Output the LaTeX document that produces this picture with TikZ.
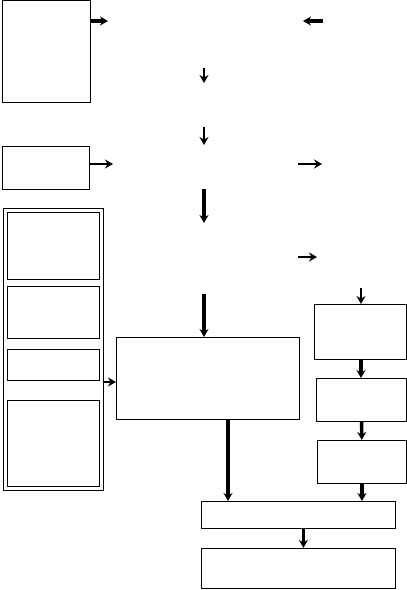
\documentclass[tikz,border=0pt]{standalone}
\usepackage{tikz}
\usetikzlibrary{positioning,arrows.meta,fit,calc}
\tikzset{
  boite/.style={
    rectangle, draw=black, line width=0.9pt, inner sep=0pt},
  fleche/.style={-{Stealth[length=8pt,width=9pt]}, line width=2.6pt},
  flecheFine/.style={fleche, line width=2pt},
  flecheEpaisse/.style={fleche, line width=3.4pt}
}
\begin{document}
\begin{tikzpicture}[x=1pt,y=1pt]
  \useasboundingbox (0,0) rectangle (407,-590);

  % --- Haut : boites de gauche
  \node[boite, anchor=north west, minimum width=88pt, minimum height=102pt] (A) at (2,0) {};
  \node[boite, anchor=north west, minimum width=87pt, minimum height=43pt] (B) at (2,-146) {};

  % --- Extremites libres des fleches du haut
  \coordinate (fA) at (108,-21);
  \coordinate (gD) at (323,-21);
  \coordinate (gA) at (303,-21);
  \coordinate (c1) at (204,-68);
  \coordinate (c2) at (204,-83);
  \coordinate (c3) at (204,-127);
  \coordinate (c4) at (204,-145);
  \coordinate (fB) at (113,-164);
  \coordinate (dB1) at (298,-164);
  \coordinate (dB2) at (322,-164);
  \coordinate (c5) at (204,-189);
  \coordinate (c6) at (204,-223);
  \coordinate (dC1) at (298,-257);
  \coordinate (dC2) at (317,-257);
  \coordinate (c7) at (204,-294);
  \coordinate (r0) at (361,-288);

  \draw[flecheEpaisse] (A.east |- fA) -- (fA);
  \draw[flecheEpaisse] (gD) -- (gA);
  \draw[flecheFine] (c1) -- (c2);
  \draw[fleche] (c3) -- (c4);
  \draw[fleche] (B.east |- fB) -- (fB);
  \draw[fleche] (dB1) -- (dB2);
  \draw[flecheEpaisse] (c5) -- (c6);
  \draw[fleche] (dC1) -- (dC2);

  % --- Groupe de gauche
  \node[boite, anchor=north west, minimum width=92pt, minimum height=67pt] (g1) at (7,-212) {};
  \node[boite, below=6pt of g1, minimum width=92pt, minimum height=52pt] (g2) {};
  \node[boite, below=10pt of g2, minimum width=92pt, minimum height=31pt] (g3) {};
  \node[boite, below=19pt of g3, minimum width=92pt, minimum height=86pt] (g4) {};
  \node[boite, fit=(g1)(g4), inner sep=4pt] (grp) {};

  % --- Boite centrale et colonne de droite
  \node[boite, anchor=north west, minimum width=183pt, minimum height=82pt] (C) at (116,-337) {};
  \node[boite, anchor=north west, minimum width=92pt, minimum height=55pt] (R1) at (314,-304) {};
  \node[boite, anchor=north west, minimum width=90pt, minimum height=43pt] (R2) at (316,-378) {};
  \node[boite, anchor=north west, minimum width=89pt, minimum height=43pt] (R3) at (317,-440) {};

  \coordinate (eG) at (0,-382);
  \coordinate (sC) at (228,0);
  \draw[flecheEpaisse] (c7) -- (C.north -| c7);
  \draw[fleche] (r0) -- (R1.north -| r0);
  \draw[fleche] (grp.east |- eG) -- (C.west |- eG);
  \draw[flecheEpaisse] (R1.south -| r0) -- (R2.north -| r0);
  \draw[flecheEpaisse] (R2) -- (R3);

  % --- Bas
  \node[boite, anchor=north west, minimum width=194pt, minimum height=27pt] (D1) at (201,-501) {};
  \node[boite, below=19pt of D1, minimum width=194pt, minimum height=40pt] (D2) {};

  \draw[flecheEpaisse] (C.south -| sC) -- (D1.north -| sC);
  \draw[flecheEpaisse] (R3.south) -- (D1.north -| R3.south);
  \draw[flecheEpaisse] ($(D1.south)+(5,0)$) -- ($(D2.north)+(5,0)$);

\end{tikzpicture}
\end{document}
